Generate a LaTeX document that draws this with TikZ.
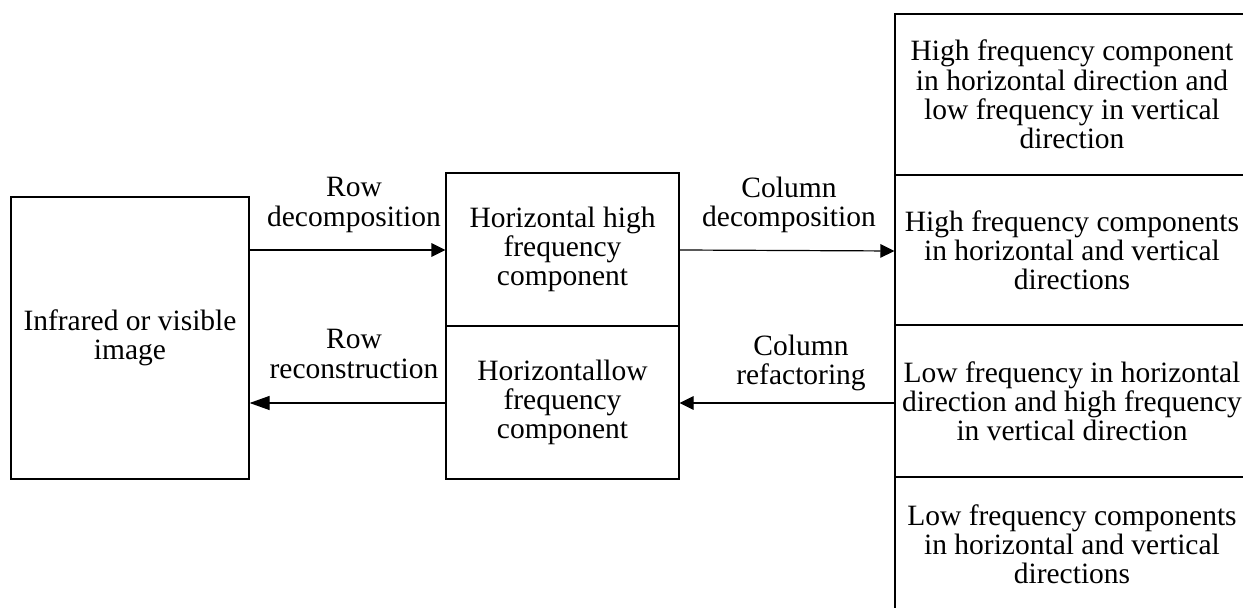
\documentclass[tikz,border=0pt]{standalone}
\usepackage{fontspec}
\setmainfont{Liberation Serif}
\usetikzlibrary{arrows.meta}
\begin{document}
\begin{tikzpicture}[x=0.5pt,y=-0.5pt,
  every node/.style={font=\fontsize{14.75}{14.6}\selectfont, align=center, inner sep=0pt},
  box/.style={draw, line width=0.6pt},
  arr/.style={line width=0.6pt, -{Triangle[length=7pt,width=6.8pt]}},
  arrlong/.style={line width=0.6pt, -{Triangle[length=10pt,width=7pt]}},
  lbl/.style={}]
\useasboundingbox (0,0) rectangle (1243,608);
\begin{scope}
\clip (0,0) rectangle (1243,608);
% boxes
\node[box, minimum width=119pt, minimum height=141pt] (src) at (130,338) {Infrared or visible\\image};
\node[box, minimum width=116.5pt, minimum height=76.5pt] (mt) at (562.5,249.5) {Horizontal high\\frequency\\component};
\node[box, minimum width=116.5pt, minimum height=76.5pt] (mb) at (562.5,402.5) {Horizontallow\\frequency\\component};
\node[box, minimum width=177pt, minimum height=80.5pt] (r1) at (1072,94.5) {High frequency component\\in horizontal direction and\\low frequency in vertical\\direction};
\node[box, minimum width=177pt, minimum height=75pt] (r2) at (1072,250) {High frequency components\\in horizontal and vertical\\directions};
\node[box, minimum width=177pt, minimum height=76pt] (r3) at (1072,401) {Low frequency in horizontal\\direction and high frequency\\in vertical direction};
\node[box, minimum width=177pt, minimum height=67.5pt] (r4) at (1072,544.5) {Low frequency components\\in horizontal and vertical\\directions};
\end{scope}
% connectors
\draw[arr] (src.east |- 0,250) -- (mt.west |- 0,250);
\draw[arr] (mt.east |- 0,250) -- (r2.west |- 0,251);
\draw[arr] (r3.west |- 0,403) -- (mb.east |- 0,403);
\draw[arrlong] (mb.west |- 0,403) -- (src.east |- 0,403);
% labels
\node[lbl] (l1) at (354,205) {Row\\decomposition};
\node[lbl] (l2) at (789,205) {Column\\decomposition};
\node[lbl] (l3) at (354,354) {Row\\reconstruction};
\node[lbl] (l4) at (801,363) {Column\\refactoring};
\end{tikzpicture}
\end{document}
